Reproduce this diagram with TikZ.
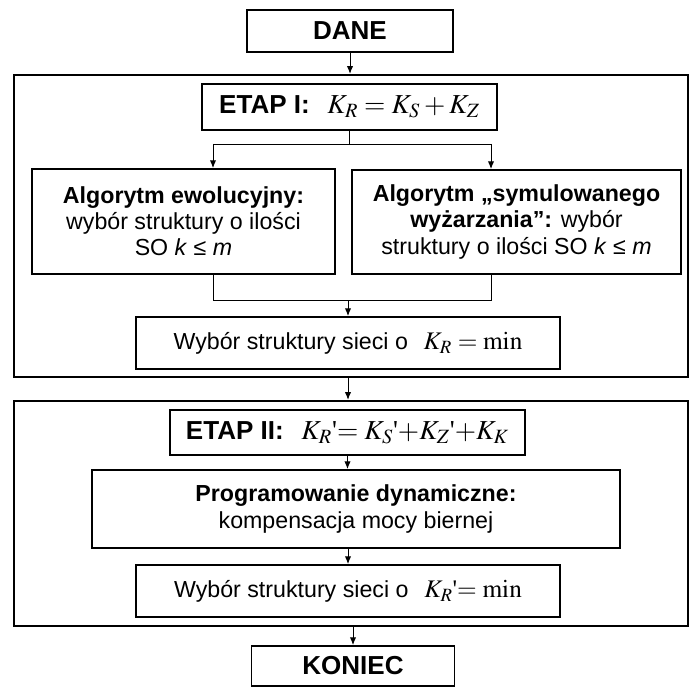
\documentclass[tikz,border=0pt]{standalone}
\usepackage{mathptmx}
\usepackage[no-math]{fontspec}
\setmainfont{Liberation Sans}
\newfontfamily\tms{Liberation Serif}
\usetikzlibrary{arrows.meta}
\newcommand{\pr}{{\tms\textquotesingle}}
\newcommand{\eqhead}[1]{{\fontsize{19.5}{22}\selectfont #1}}
\newcommand{\eqbody}[1]{{\fontsize{18}{20}\selectfont #1}}
\tikzset{
  box/.style={draw, line width=1.3pt, align=center, inner sep=0pt, font=\fontsize{16.5}{18.5}\selectfont},
  head/.style={box, font=\fontsize{18.5}{21}\selectfont},
  stage/.style={draw, line width=1.6pt, inner sep=0pt},
  line/.style={line width=0.7pt},
  link/.style={line, -{Latex[length=5.5pt,width=4.5pt]}}
}

\begin{document}
\begin{tikzpicture}[x=0.025cm, y=-0.025cm]
\useasboundingbox (0,0) rectangle (690,689);

\node[stage, minimum width=16.85cm, minimum height=7.55cm] (etap1) at (351,226) {};
\node[stage, minimum width=16.85cm, minimum height=5.625cm] (etap2) at (351,513.5) {};

\node[head, minimum width=5.15cm, minimum height=1.05cm] (dane) at (350,31) {\bfseries DANE};
\node[head, minimum width=7.375cm, minimum height=1.15cm] (etap1head) at (349.5,107)
  {\textbf{ETAP I:}\hspace{0.4em} \eqhead{$K_R=K_S+K_Z$}};
\node[box, minimum width=7.575cm, minimum height=2.625cm] (evo) at (183.5,221.5)
  {\textbf{Algorytm ewolucyjny:}\\ wybór struktury o ilości\\ SO \textit{k} ≤ \textit{m}};
\node[box, minimum width=8.225cm, minimum height=2.6cm] (sa) at (516.5,222)
  {\textbf{Algorytm „symulowanego}\\ \textbf{wyżarzania”:} wybór\\ struktury o ilości SO \textit{k} ≤ \textit{m}};
\node[box, minimum width=10.6cm, minimum height=1.3cm] (min1) at (348,343)
  {Wybór struktury sieci o\hspace{0.4em} \eqbody{$K_R=\min$}};

\node[head, minimum width=8.875cm, minimum height=1.125cm] (etap2head) at (347.5,432.5)
  {\textbf{ETAP II:}\hspace{0.4em} \eqhead{$K_R$\pr$=K_S$\pr$+K_Z$\pr$+K_K$}};
\node[box, minimum width=13.2cm, minimum height=1.95cm] (dyn) at (356,509)
  {\textbf{Programowanie dynamiczne:}\\ kompensacja mocy biernej};
\node[box, minimum width=10.6cm, minimum height=1.3cm] (min2) at (348,591)
  {Wybór struktury sieci o\hspace{0.4em} \eqbody{$K_R$\pr$=\min$}};
\node[head, minimum width=5.075cm, minimum height=1.0cm] (koniec) at (353,666) {\bfseries KONIEC};

\coordinate (l) at (213,144);
\coordinate (r) at (491,144);
\coordinate (lm) at (213,300);
\coordinate (rm) at (491,300);

\draw[link] (dane) -- (dane |- etap1.north);
\draw[line] (etap1head) -- (etap1head |- l);
\draw[line] (l) -- (r);
\draw[link] (l) -- (l |- evo.north);
\draw[link] (r) -- (r |- sa.north);
\draw[line] (lm |- evo.south) -- (lm) -- (rm) -- (rm |- sa.south);
\draw[link] (min1.north |- lm) -- (min1.north);
\draw[link] (min1.south |- etap1.south) -- (min1.south |- etap2.north);
\draw[link] (etap2head) -- (etap2head |- dyn.north);
\draw[link] (min2.north |- dyn.south) -- (min2.north);
\draw[link] (koniec.north |- etap2.south) -- (koniec.north);
\end{tikzpicture}
\end{document}
